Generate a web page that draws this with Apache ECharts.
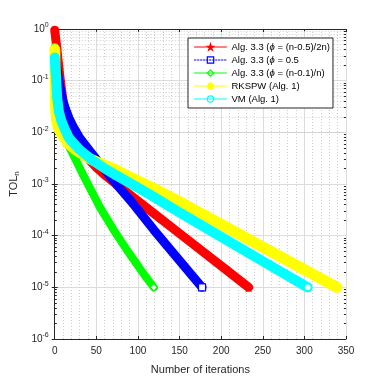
<!DOCTYPE html>
<html><head><meta charset="utf-8">
<script src="https://cdn.jsdelivr.net/npm/echarts@6/dist/echarts.min.js"></script>
<style>html,body{margin:0;padding:0;background:#fff}#c{width:382px;height:382px}</style>
</head><body><div id="c"></div>
<script>
// ---- data ----
const seriesNames = ['Alg. 3.3 (ϕ = (n-0.5)/2n)', 'Alg. 3.3 (ϕ = 0.5', 'Alg. 3.3 (ϕ = (n-0.1)/n)', 'RKSPW (Alg. 1)', 'VM (Alg. 1)'];
const iterRed = [0, 2, 4, 6, 8, 10, 12, 15, 20, 30, 40, 50, 60, 87, 119, 150, 200, 233];
const tolRed  = [0.95, 0.5, 0.25, 0.126, 0.07, 0.04, 0.025, 0.014, 0.0085, 0.0048, 0.0031, 0.0021, 0.0015, 6.8e-4, 2.7e-4, 1.1e-4, 2.6e-5, 1.0e-5];
const iterBlue = [0, 2, 4, 6, 8, 10, 13, 17, 22, 30, 45, 60, 75, 92, 119, 150, 177];
const tolBlue  = [0.32, 0.2, 0.12, 0.08, 0.055, 0.04, 0.028, 0.019, 0.013, 0.0078, 0.0038, 0.0019, 9.5e-4, 4.6e-4, 1.3e-4, 3.3e-5, 1.0e-5];
const iterGreen = [0, 1, 2, 4, 6, 9, 13, 18, 25, 35, 54, 70, 87, 105, 119];
const tolGreen  = [0.45, 0.2, 0.1, 0.04, 0.02, 0.011, 0.007, 0.005, 0.003, 0.0014, 3.6e-4, 1.35e-4, 5.2e-5, 2.0e-5, 1.0e-5];
const iterYellow = [0, 1, 2, 4, 8, 15, 25, 40, 60, 73, 90, 119, 150, 200, 250, 300, 339];
const tolYellow  = [0.4, 0.032, 0.018, 0.0126, 0.0095, 0.0064, 0.0046, 0.0032, 0.0023, 0.0019, 0.00136, 8.2e-4, 4.5e-4, 1.66e-4, 6.0e-5, 2.2e-5, 1.0e-5];
const iterCyan = [0, 1, 2, 3, 5, 8, 12, 17, 30, 45, 60, 73, 100, 120, 150, 200, 250, 304];
const tolCyan  = [0.28, 0.14, 0.08, 0.045, 0.025, 0.0166, 0.0115, 0.0078, 0.0046, 0.0029, 0.002, 0.0015, 8.5e-4, 5.5e-4, 2.8e-4, 9.5e-5, 3.2e-5, 1.0e-5];
const yMin = 1e-6, yMax = 1;

const pairs = (xs, ys) => xs.map((x, i) => [x, ys[i]]);
const FONT = '"Liberation Sans", Arial, Helvetica, sans-serif';
const TXT = '#262626';
const star = 'path://M50,0 L61,35 L98,35 L68,57 L79,91 L50,70 L21,91 L32,57 L2,35 L39,35Z';
const aster = 'path://M-5,-60 L5,-60 L5,60 L-5,60Z M-60,-5 L60,-5 L60,5 L-60,5Z M-46,-39 L-39,-46 L46,39 L39,46Z M39,-46 L46,-39 L-39,46 L-46,39Z';

const colors = ['#ff0000', '#0000ff', '#00ff00', '#ffff00', '#00ffff'];
const symbols = [star, 'rect', 'diamond', aster, 'circle'];
const datas = [pairs(iterRed, tolRed), pairs(iterBlue, tolBlue), pairs(iterGreen, tolGreen), pairs(iterYellow, tolYellow), pairs(iterCyan, tolCyan)];
const widths = [9, 9, 8, 11, 10];

// minor log grid positions (2..9 x 10^k)
const minorVals = [];
for (let k = -6; k < 0; k++) for (let m = 2; m <= 9; m++) minorVals.push(m * Math.pow(10, k));

const series = datas.map((d, i) => ({
  name: seriesNames[i], type: 'line', data: d, xAxisIndex: 0, yAxisIndex: 0, z: 3,
  smooth: false, showSymbol: true, showAllSymbol: true, symbol: symbols[i],
  symbolSize: (v, p) => (p.dataIndex === d.length - 1 ? 7 : 0),
  lineStyle: { color: colors[i], width: widths[i], join: 'round', cap: 'round' },
  itemStyle: { color: (i === 0 || i === 3) ? colors[i] : '#fff', borderColor: colors[i], borderWidth: 1.2 },
  emphasis: { disabled: true }, animation: false
}));
series[0].markLine = {
  silent: true, symbol: 'none', z: 1, animation: false, label: { show: false },
  lineStyle: { color: '#cfcfcf', type: [1, 2], width: 1 },
  emphasis: { disabled: true },
  data: minorVals.map(v => ({ yAxis: v }))
};
series[1].markLine = {
  silent: true, symbol: 'none', z: 1, animation: false, label: { show: false },
  lineStyle: { color: TXT, type: 'solid', width: 1 },
  emphasis: { disabled: true },
  data: minorVals.map(v => [{ coord: [0, v] }, { coord: [2.5, v] }])
    .concat(minorVals.map(v => [{ coord: [347.5, v] }, { coord: [350, v] }]))
};

const chart = echarts.init(document.getElementById('c'), null, { renderer: 'canvas' });
const tickLabel = {
  fontSize: 10, color: TXT, fontFamily: FONT,
  formatter: v => '{b|10}{s|' + Math.round(Math.log10(v)) + '}',
  rich: { b: { fontSize: 10, color: TXT, fontFamily: FONT }, s: { fontSize: 7, color: TXT, fontFamily: FONT, verticalAlign: 'top', padding: [0, 0, 7, 0] } }
};
chart.setOption({
  animation: false,
  backgroundColor: '#fff',
  grid: { left: 49, right: 36, top: 29, bottom: 43 },
  xAxis: [
    { type: 'value', min: 0, max: 350, interval: 50, position: 'bottom',
      name: 'Number of iterations', nameLocation: 'middle', nameGap: 25,
      nameTextStyle: { fontSize: 11, color: TXT, fontFamily: FONT },
      axisLine: { lineStyle: { color: TXT, width: 1 } },
      axisTick: { inside: true, length: 3, lineStyle: { color: TXT } },
      axisLabel: { fontSize: 10, color: TXT, fontFamily: FONT, margin: 7 },
      splitLine: { show: true, lineStyle: { color: '#dcdcdc', width: 1 } },
      minorTick: { show: false, splitNumber: 5 },
      minorSplitLine: { show: true, lineStyle: { color: '#cfcfcf', type: [1, 2], width: 1 } } },
    { type: 'value', min: 0, max: 350, interval: 50, position: 'top',
      axisLine: { lineStyle: { color: TXT, width: 1 } },
      axisTick: { inside: true, length: 3, lineStyle: { color: TXT } },
      axisLabel: { show: false }, splitLine: { show: false } }
  ],
  yAxis: [
    { type: 'log', logBase: 10, min: yMin, max: yMax, interval: 1, position: 'left',
      name: 'TOL{sub|n}', nameLocation: 'middle', nameGap: 25, nameRotate: 90,
      nameTextStyle: { fontSize: 11, color: TXT, fontFamily: FONT,
        rich: { sub: { fontSize: 8, color: TXT, fontFamily: FONT, verticalAlign: 'bottom', padding: [6, 0, 0, 0] } } },
      axisLine: { show: true, lineStyle: { color: TXT, width: 1 } },
      axisTick: { inside: true, length: 3, lineStyle: { color: TXT } },
      axisLabel: Object.assign({ margin: 6 }, tickLabel),
      splitLine: { show: true, lineStyle: { color: '#dcdcdc', width: 1 } },
      minorTick: { show: false }, minorSplitLine: { show: false } },
    { type: 'log', logBase: 10, min: yMin, max: yMax, interval: 1, position: 'right',
      axisLine: { show: true, lineStyle: { color: TXT, width: 1 } },
      axisTick: { inside: true, length: 3, lineStyle: { color: TXT } },
      axisLabel: { show: false }, splitLine: { show: false } }
  ],
  legend: {
    orient: 'vertical', left: 188, top: 38, itemWidth: 32, itemHeight: 8, itemGap: 3,
    padding: [4, 3, 4, 6], borderColor: TXT, borderWidth: 1, backgroundColor: '#fff',
    selectedMode: false,
    textStyle: { fontSize: 9.5, color: '#000', fontFamily: FONT,
      rich: { i: { fontSize: 9.5, color: '#000', fontFamily: FONT, fontStyle: 'italic' } } },
    formatter: n => n.replace('ϕ', '{i|ϕ}'),
    data: seriesNames.map((n, i) => ({ name: n,
      lineStyle: { width: 1, type: i === 1 ? [1.5, 1.5] : 'solid', color: colors[i] },
      itemStyle: { color: (i === 0 || i === 3) ? colors[i] : 'rgba(255,255,255,0)', borderColor: colors[i], borderWidth: 1.2 } }))
  },
  series: series
});
</script></body></html>
